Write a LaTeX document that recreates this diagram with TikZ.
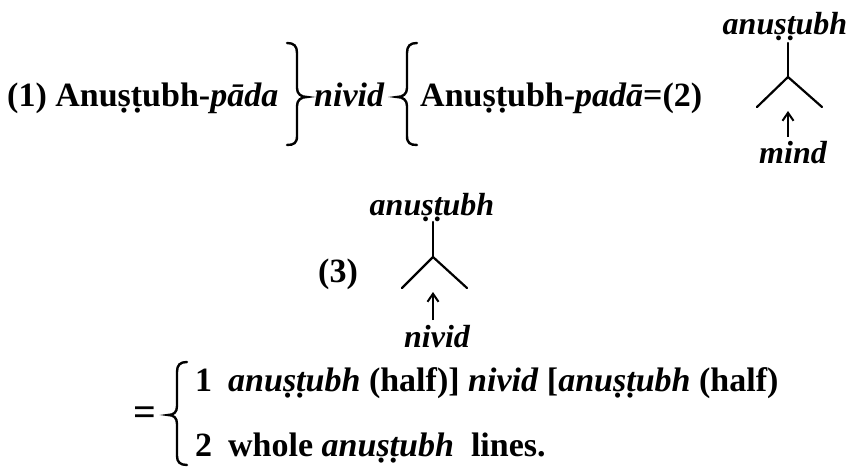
\documentclass[tikz,border=0pt]{standalone}
\usepackage{fontspec}
\setmainfont{Liberation Serif}
\usetikzlibrary{arrows.meta}
\tikzset{
  txt/.style={inner sep=0pt, anchor=base west, font=\fontsize{34}{40}\selectfont\bfseries},
  itxt/.style={inner sep=0pt, anchor=base, font=\fontsize{32}{40}\selectfont\bfseries\itshape},
  stroke/.style={line width=2.2pt, line cap=round},
  bracepath/.style={line width=2.4pt, line cap=round},
  uparrow/.style={line width=2.2pt, -{Straight Barb[length=8pt,width=11pt,line width=2pt]}}
}
\begin{document}
\begin{tikzpicture}[x=1pt,y=-1pt]
\useasboundingbox (0,0) rectangle (855,468);
% line 1
\node[txt] (p1) at (7,107) {(1) Anuṣṭubh-\textit{pāda}};
\node[txt] (nv) at (314,107) {\itshape nivid};
\node[txt] (p2) at (420,107) {Anuṣṭubh-\textit{padā}=(2)};
\draw[bracepath] (287,43) .. controls (294,43) and (297,46) .. (297,53) -- (297,88)
  .. controls (297,94) and (301,97) .. (307,97) .. controls (301,97) and (297,100) .. (297,106)
  -- (297,136) .. controls (297,143) and (294,145) .. (287,145);
\draw[bracepath] (417,43) .. controls (410,43) and (407,46) .. (407,53) -- (407,88)
  .. controls (407,94) and (403,97) .. (397,97) .. controls (403,97) and (407,100) .. (407,106)
  -- (407,136) .. controls (407,143) and (410,145) .. (417,145);
% tree 2
\node[itxt] (t2) at (785,35) {anuṣṭubh};
\node[itxt] (m2) at (793,164) {mind};
\coordinate (s2) at (788,43);
\coordinate (a2) at (788,77);
\coordinate (l2) at (757,107);
\coordinate (r2) at (822,107);
\coordinate (q2) at (788,137);
\coordinate (k2) at (788,111);
\draw[stroke] (s2) -- (a2);
\draw[stroke] (l2) -- (a2) -- (r2);
\draw[uparrow] (q2) -- (k2);
% tree 3
\node[itxt] (t3) at (432,216) {anuṣṭubh};
\node[itxt] (m3) at (437,347) {nivid};
\node[txt] (p3) at (318,283) {(3)};
\coordinate (s3) at (433,222);
\coordinate (a3) at (433,257);
\coordinate (l3) at (402,288);
\coordinate (r3) at (467,288);
\coordinate (q3) at (433,320);
\coordinate (k3) at (433,292);
\draw[stroke] (s3) -- (a3);
\draw[stroke] (l3) -- (a3) -- (r3);
\draw[uparrow] (q3) -- (k3);
% bottom
\node[inner sep=0pt, anchor=base west, font=\fontsize{40}{40}\selectfont\bfseries] (eq) at (133,425) {=};
\draw[bracepath] (187,362) .. controls (180,362) and (177,365) .. (177,372) -- (177,406)
  .. controls (177,412) and (174,415) .. (168,415) .. controls (174,415) and (177,418) .. (177,424)
  -- (177,456) .. controls (177,462) and (180,465) .. (187,465);
\node[txt] (n1) at (195,391) {1};
\node[txt] (b1) at (228,391) {\textit{anuṣṭubh} (half)] \textit{nivid} [\textit{anuṣṭubh} (half)};
\node[txt] (n2) at (195,456) {2};
\node[txt] (b2) at (228,456) {whole \textit{anuṣṭubh}\ \ lines.};
\end{tikzpicture}
\end{document}
